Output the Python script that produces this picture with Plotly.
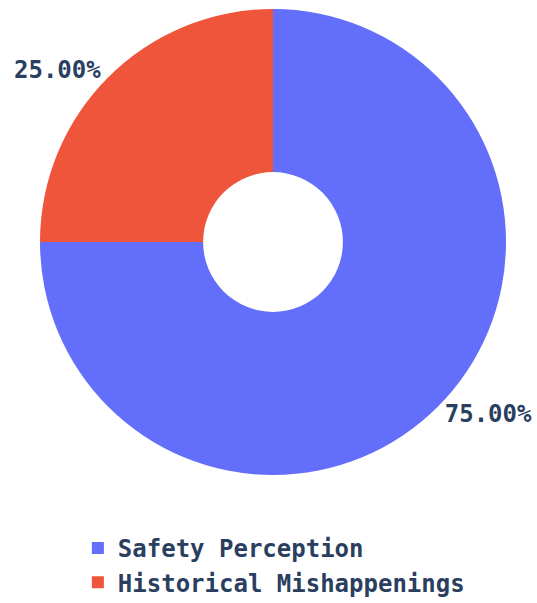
import plotly.graph_objects as go

# Survey share data
labels = ["Safety Perception", "Historical Mishappenings"]
values = [75, 25]
colors = ["#636EFA", "#EF553B"]

W, H = 537, 603
cx, cy, r = 273, 242, 233  # pie centre / radius in pixels

fig = go.Figure(
    go.Pie(
        labels=labels,
        values=values,
        hole=0.3,
        sort=False,
        direction="clockwise",
        rotation=0,
        marker=dict(colors=colors, line=dict(width=0)),
        textinfo="percent",
        texttemplate="%{percent:.2%}",
        textposition="outside",
        automargin=False,
        textfont=dict(family="DejaVu Sans Mono", size=24, color="#2a3f5f", weight="bold"),
        domain=dict(
            x=[(cx - r) / W, (cx + r) / W],
            y=[(H - cy - r) / H, (H - cy + r) / H],
        ),
    )
)

fig.update_layout(
    width=W,
    height=H,
    margin=dict(l=0, r=0, t=0, b=0, autoexpand=False),
    paper_bgcolor="white",
    plot_bgcolor="white",
    font=dict(family="DejaVu Sans Mono", size=24, color="#2a3f5f"),
    showlegend=True,
    legend=dict(
        orientation="v",
        x=0.145,
        xanchor="left",
        y=(H - 526) / H,
        yanchor="top",
        font=dict(family="DejaVu Sans Mono", size=24, color="#2a3f5f", weight="bold"),
    ),
)

fig.write_html("out.html")
